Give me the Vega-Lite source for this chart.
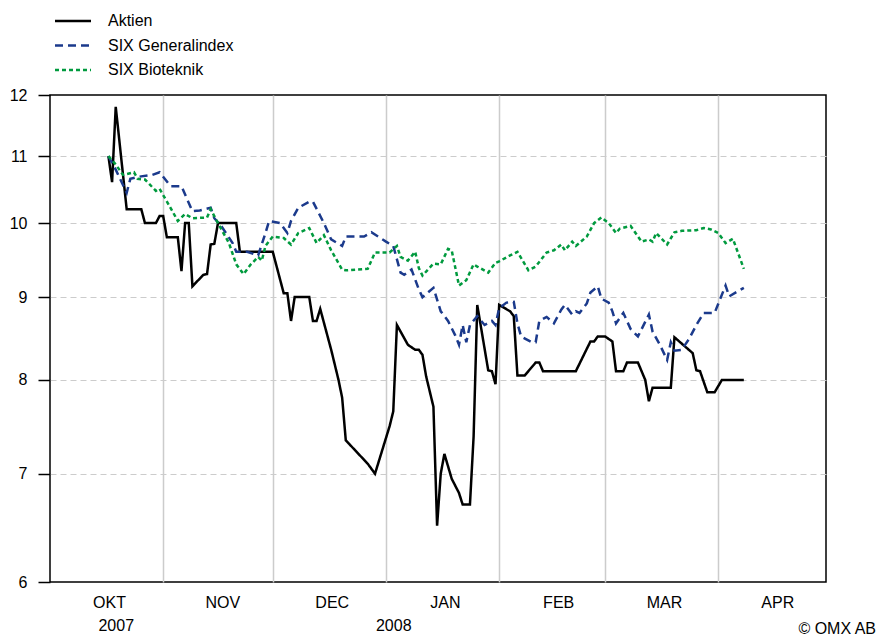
{
  "$schema": "https://vega.github.io/schema/vega-lite/v6.json",
  "width": 776,
  "height": 487,
  "autosize": {"type": "none"},
  "padding": {"left": 50, "top": 95, "right": 54, "bottom": 54},
  "background": "white",
  "config": {
    "font": "Liberation Sans",
    "view": {"stroke": "#000000", "strokeWidth": 1.5}
  },
  "title": {
    "text": "© OMX AB",
    "orient": "bottom",
    "anchor": "end",
    "fontSize": 16,
    "fontWeight": "normal",
    "font": "Liberation Sans",
    "color": "#000000",
    "dx": 50,
    "dy": -12,
    "offset": 0
  },
  "datasets": {
    "years": [
      {"date": "2007-10-19", "year": "2007"},
      {"date": "2008-01-03", "year": "2008"}
    ],
    "prices": [
      {"date": "2007-10-17", "series": "Aktien", "value": 11.0},
      {"date": "2007-10-18", "series": "Aktien", "value": 10.6},
      {"date": "2007-10-19", "series": "Aktien", "value": 11.8},
      {"date": "2007-10-22", "series": "Aktien", "value": 10.2},
      {"date": "2007-10-26", "series": "Aktien", "value": 10.2},
      {"date": "2007-10-27", "series": "Aktien", "value": 10.0},
      {"date": "2007-10-30", "series": "Aktien", "value": 10.0},
      {"date": "2007-10-31", "series": "Aktien", "value": 10.1},
      {"date": "2007-11-01", "series": "Aktien", "value": 10.1},
      {"date": "2007-11-02", "series": "Aktien", "value": 9.8},
      {"date": "2007-11-05", "series": "Aktien", "value": 9.8},
      {"date": "2007-11-06", "series": "Aktien", "value": 9.34},
      {"date": "2007-11-07", "series": "Aktien", "value": 10.0},
      {"date": "2007-11-08", "series": "Aktien", "value": 10.0},
      {"date": "2007-11-09", "series": "Aktien", "value": 9.14},
      {"date": "2007-11-12", "series": "Aktien", "value": 9.29},
      {"date": "2007-11-13", "series": "Aktien", "value": 9.3},
      {"date": "2007-11-14", "series": "Aktien", "value": 9.7},
      {"date": "2007-11-15", "series": "Aktien", "value": 9.71},
      {"date": "2007-11-16", "series": "Aktien", "value": 10.0},
      {"date": "2007-11-21", "series": "Aktien", "value": 10.0},
      {"date": "2007-11-22", "series": "Aktien", "value": 9.6},
      {"date": "2007-12-01", "series": "Aktien", "value": 9.6},
      {"date": "2007-12-04", "series": "Aktien", "value": 9.05},
      {"date": "2007-12-05", "series": "Aktien", "value": 9.05},
      {"date": "2007-12-06", "series": "Aktien", "value": 8.7},
      {"date": "2007-12-07", "series": "Aktien", "value": 9.0},
      {"date": "2007-12-11", "series": "Aktien", "value": 9.0},
      {"date": "2007-12-12", "series": "Aktien", "value": 8.7},
      {"date": "2007-12-13", "series": "Aktien", "value": 8.7},
      {"date": "2007-12-14", "series": "Aktien", "value": 8.85},
      {"date": "2007-12-17", "series": "Aktien", "value": 8.35},
      {"date": "2007-12-19", "series": "Aktien", "value": 8.0},
      {"date": "2007-12-20", "series": "Aktien", "value": 7.8},
      {"date": "2007-12-21", "series": "Aktien", "value": 7.34},
      {"date": "2007-12-22", "series": "Aktien", "value": 7.3},
      {"date": "2007-12-27", "series": "Aktien", "value": 7.1},
      {"date": "2007-12-29", "series": "Aktien", "value": 7.0},
      {"date": "2008-01-02", "series": "Aktien", "value": 7.49},
      {"date": "2008-01-03", "series": "Aktien", "value": 7.65},
      {"date": "2008-01-04", "series": "Aktien", "value": 8.65},
      {"date": "2008-01-07", "series": "Aktien", "value": 8.41},
      {"date": "2008-01-09", "series": "Aktien", "value": 8.35},
      {"date": "2008-01-10", "series": "Aktien", "value": 8.35},
      {"date": "2008-01-11", "series": "Aktien", "value": 8.29},
      {"date": "2008-01-12", "series": "Aktien", "value": 8.04},
      {"date": "2008-01-14", "series": "Aktien", "value": 7.7},
      {"date": "2008-01-15", "series": "Aktien", "value": 6.5},
      {"date": "2008-01-16", "series": "Aktien", "value": 7.0},
      {"date": "2008-01-17", "series": "Aktien", "value": 7.2},
      {"date": "2008-01-19", "series": "Aktien", "value": 6.95},
      {"date": "2008-01-21", "series": "Aktien", "value": 6.81},
      {"date": "2008-01-22", "series": "Aktien", "value": 6.7},
      {"date": "2008-01-24", "series": "Aktien", "value": 6.7},
      {"date": "2008-01-25", "series": "Aktien", "value": 7.38},
      {"date": "2008-01-26", "series": "Aktien", "value": 8.9},
      {"date": "2008-01-29", "series": "Aktien", "value": 8.11},
      {"date": "2008-01-30", "series": "Aktien", "value": 8.1},
      {"date": "2008-01-31", "series": "Aktien", "value": 7.95},
      {"date": "2008-02-01", "series": "Aktien", "value": 8.9},
      {"date": "2008-02-04", "series": "Aktien", "value": 8.82},
      {"date": "2008-02-05", "series": "Aktien", "value": 8.76},
      {"date": "2008-02-06", "series": "Aktien", "value": 8.05},
      {"date": "2008-02-08", "series": "Aktien", "value": 8.05},
      {"date": "2008-02-11", "series": "Aktien", "value": 8.2},
      {"date": "2008-02-12", "series": "Aktien", "value": 8.2},
      {"date": "2008-02-13", "series": "Aktien", "value": 8.1},
      {"date": "2008-02-22", "series": "Aktien", "value": 8.1},
      {"date": "2008-02-26", "series": "Aktien", "value": 8.45},
      {"date": "2008-02-27", "series": "Aktien", "value": 8.45},
      {"date": "2008-02-28", "series": "Aktien", "value": 8.51},
      {"date": "2008-03-01", "series": "Aktien", "value": 8.51},
      {"date": "2008-03-03", "series": "Aktien", "value": 8.45},
      {"date": "2008-03-04", "series": "Aktien", "value": 8.1},
      {"date": "2008-03-06", "series": "Aktien", "value": 8.1},
      {"date": "2008-03-07", "series": "Aktien", "value": 8.2},
      {"date": "2008-03-10", "series": "Aktien", "value": 8.2},
      {"date": "2008-03-12", "series": "Aktien", "value": 8.0},
      {"date": "2008-03-13", "series": "Aktien", "value": 7.76},
      {"date": "2008-03-14", "series": "Aktien", "value": 7.91},
      {"date": "2008-03-19", "series": "Aktien", "value": 7.91},
      {"date": "2008-03-20", "series": "Aktien", "value": 8.5},
      {"date": "2008-03-25", "series": "Aktien", "value": 8.31},
      {"date": "2008-03-26", "series": "Aktien", "value": 8.11},
      {"date": "2008-03-27", "series": "Aktien", "value": 8.1},
      {"date": "2008-03-29", "series": "Aktien", "value": 7.86},
      {"date": "2008-03-31", "series": "Aktien", "value": 7.86},
      {"date": "2008-04-02", "series": "Aktien", "value": 8.0},
      {"date": "2008-04-08", "series": "Aktien", "value": 8.0},

      {"date": "2007-10-17", "series": "SIX Generalindex", "value": 11.0},
      {"date": "2007-10-19", "series": "SIX Generalindex", "value": 10.79},
      {"date": "2007-10-22", "series": "SIX Generalindex", "value": 10.44},
      {"date": "2007-10-23", "series": "SIX Generalindex", "value": 10.65},
      {"date": "2007-10-25", "series": "SIX Generalindex", "value": 10.68},
      {"date": "2007-10-29", "series": "SIX Generalindex", "value": 10.71},
      {"date": "2007-10-31", "series": "SIX Generalindex", "value": 10.75},
      {"date": "2007-11-03", "series": "SIX Generalindex", "value": 10.54},
      {"date": "2007-11-06", "series": "SIX Generalindex", "value": 10.54},
      {"date": "2007-11-09", "series": "SIX Generalindex", "value": 10.17},
      {"date": "2007-11-11", "series": "SIX Generalindex", "value": 10.18},
      {"date": "2007-11-14", "series": "SIX Generalindex", "value": 10.22},
      {"date": "2007-11-15", "series": "SIX Generalindex", "value": 10.07},
      {"date": "2007-11-17", "series": "SIX Generalindex", "value": 9.95},
      {"date": "2007-11-20", "series": "SIX Generalindex", "value": 9.72},
      {"date": "2007-11-21", "series": "SIX Generalindex", "value": 9.6},
      {"date": "2007-11-24", "series": "SIX Generalindex", "value": 9.6},
      {"date": "2007-11-27", "series": "SIX Generalindex", "value": 9.55},
      {"date": "2007-11-29", "series": "SIX Generalindex", "value": 9.86},
      {"date": "2007-11-30", "series": "SIX Generalindex", "value": 10.03},
      {"date": "2007-12-03", "series": "SIX Generalindex", "value": 10.0},
      {"date": "2007-12-05", "series": "SIX Generalindex", "value": 9.86},
      {"date": "2007-12-06", "series": "SIX Generalindex", "value": 10.03},
      {"date": "2007-12-08", "series": "SIX Generalindex", "value": 10.22},
      {"date": "2007-12-11", "series": "SIX Generalindex", "value": 10.31},
      {"date": "2007-12-12", "series": "SIX Generalindex", "value": 10.31},
      {"date": "2007-12-15", "series": "SIX Generalindex", "value": 10.0},
      {"date": "2007-12-17", "series": "SIX Generalindex", "value": 9.77},
      {"date": "2007-12-20", "series": "SIX Generalindex", "value": 9.68},
      {"date": "2007-12-21", "series": "SIX Generalindex", "value": 9.81},
      {"date": "2007-12-26", "series": "SIX Generalindex", "value": 9.81},
      {"date": "2007-12-28", "series": "SIX Generalindex", "value": 9.87},
      {"date": "2008-01-01", "series": "SIX Generalindex", "value": 9.74},
      {"date": "2008-01-03", "series": "SIX Generalindex", "value": 9.68},
      {"date": "2008-01-05", "series": "SIX Generalindex", "value": 9.32},
      {"date": "2008-01-06", "series": "SIX Generalindex", "value": 9.29},
      {"date": "2008-01-08", "series": "SIX Generalindex", "value": 9.36},
      {"date": "2008-01-10", "series": "SIX Generalindex", "value": 9.1},
      {"date": "2008-01-11", "series": "SIX Generalindex", "value": 9.0},
      {"date": "2008-01-14", "series": "SIX Generalindex", "value": 9.12},
      {"date": "2008-01-16", "series": "SIX Generalindex", "value": 8.82},
      {"date": "2008-01-18", "series": "SIX Generalindex", "value": 8.7},
      {"date": "2008-01-20", "series": "SIX Generalindex", "value": 8.52},
      {"date": "2008-01-21", "series": "SIX Generalindex", "value": 8.41},
      {"date": "2008-01-22", "series": "SIX Generalindex", "value": 8.65},
      {"date": "2008-01-23", "series": "SIX Generalindex", "value": 8.44},
      {"date": "2008-01-24", "series": "SIX Generalindex", "value": 8.65},
      {"date": "2008-01-26", "series": "SIX Generalindex", "value": 8.76},
      {"date": "2008-01-28", "series": "SIX Generalindex", "value": 8.65},
      {"date": "2008-01-30", "series": "SIX Generalindex", "value": 8.7},
      {"date": "2008-01-31", "series": "SIX Generalindex", "value": 8.65},
      {"date": "2008-02-01", "series": "SIX Generalindex", "value": 8.86},
      {"date": "2008-02-03", "series": "SIX Generalindex", "value": 8.93},
      {"date": "2008-02-05", "series": "SIX Generalindex", "value": 8.94},
      {"date": "2008-02-06", "series": "SIX Generalindex", "value": 8.67},
      {"date": "2008-02-07", "series": "SIX Generalindex", "value": 8.51},
      {"date": "2008-02-10", "series": "SIX Generalindex", "value": 8.44},
      {"date": "2008-02-11", "series": "SIX Generalindex", "value": 8.44},
      {"date": "2008-02-12", "series": "SIX Generalindex", "value": 8.7},
      {"date": "2008-02-14", "series": "SIX Generalindex", "value": 8.75},
      {"date": "2008-02-16", "series": "SIX Generalindex", "value": 8.67},
      {"date": "2008-02-18", "series": "SIX Generalindex", "value": 8.84},
      {"date": "2008-02-19", "series": "SIX Generalindex", "value": 8.9},
      {"date": "2008-02-21", "series": "SIX Generalindex", "value": 8.78},
      {"date": "2008-02-22", "series": "SIX Generalindex", "value": 8.82},
      {"date": "2008-02-23", "series": "SIX Generalindex", "value": 8.8},
      {"date": "2008-02-25", "series": "SIX Generalindex", "value": 8.92},
      {"date": "2008-02-26", "series": "SIX Generalindex", "value": 9.06},
      {"date": "2008-02-28", "series": "SIX Generalindex", "value": 9.14},
      {"date": "2008-02-29", "series": "SIX Generalindex", "value": 8.98},
      {"date": "2008-03-02", "series": "SIX Generalindex", "value": 8.93},
      {"date": "2008-03-03", "series": "SIX Generalindex", "value": 8.82},
      {"date": "2008-03-04", "series": "SIX Generalindex", "value": 8.67},
      {"date": "2008-03-06", "series": "SIX Generalindex", "value": 8.8},
      {"date": "2008-03-08", "series": "SIX Generalindex", "value": 8.6},
      {"date": "2008-03-10", "series": "SIX Generalindex", "value": 8.51},
      {"date": "2008-03-13", "series": "SIX Generalindex", "value": 8.78},
      {"date": "2008-03-14", "series": "SIX Generalindex", "value": 8.57},
      {"date": "2008-03-16", "series": "SIX Generalindex", "value": 8.41},
      {"date": "2008-03-18", "series": "SIX Generalindex", "value": 8.23},
      {"date": "2008-03-19", "series": "SIX Generalindex", "value": 8.44},
      {"date": "2008-03-20", "series": "SIX Generalindex", "value": 8.34},
      {"date": "2008-03-22", "series": "SIX Generalindex", "value": 8.35},
      {"date": "2008-03-24", "series": "SIX Generalindex", "value": 8.48},
      {"date": "2008-03-26", "series": "SIX Generalindex", "value": 8.65},
      {"date": "2008-03-28", "series": "SIX Generalindex", "value": 8.8},
      {"date": "2008-03-31", "series": "SIX Generalindex", "value": 8.8},
      {"date": "2008-04-03", "series": "SIX Generalindex", "value": 9.15},
      {"date": "2008-04-04", "series": "SIX Generalindex", "value": 9.01},
      {"date": "2008-04-08", "series": "SIX Generalindex", "value": 9.12},

      {"date": "2007-10-17", "series": "SIX Bioteknik", "value": 11.0},
      {"date": "2007-10-19", "series": "SIX Bioteknik", "value": 10.87},
      {"date": "2007-10-21", "series": "SIX Bioteknik", "value": 10.71},
      {"date": "2007-10-24", "series": "SIX Bioteknik", "value": 10.75},
      {"date": "2007-10-25", "series": "SIX Bioteknik", "value": 10.65},
      {"date": "2007-10-27", "series": "SIX Bioteknik", "value": 10.64},
      {"date": "2007-10-30", "series": "SIX Bioteknik", "value": 10.47},
      {"date": "2007-10-31", "series": "SIX Bioteknik", "value": 10.5},
      {"date": "2007-11-03", "series": "SIX Bioteknik", "value": 10.22},
      {"date": "2007-11-05", "series": "SIX Bioteknik", "value": 10.03},
      {"date": "2007-11-07", "series": "SIX Bioteknik", "value": 10.13},
      {"date": "2007-11-09", "series": "SIX Bioteknik", "value": 10.07},
      {"date": "2007-11-13", "series": "SIX Bioteknik", "value": 10.08},
      {"date": "2007-11-14", "series": "SIX Bioteknik", "value": 10.2},
      {"date": "2007-11-16", "series": "SIX Bioteknik", "value": 10.0},
      {"date": "2007-11-19", "series": "SIX Bioteknik", "value": 9.72},
      {"date": "2007-11-21", "series": "SIX Bioteknik", "value": 9.43},
      {"date": "2007-11-23", "series": "SIX Bioteknik", "value": 9.3},
      {"date": "2007-11-25", "series": "SIX Bioteknik", "value": 9.43},
      {"date": "2007-11-27", "series": "SIX Bioteknik", "value": 9.53},
      {"date": "2007-11-28", "series": "SIX Bioteknik", "value": 9.48},
      {"date": "2007-11-29", "series": "SIX Bioteknik", "value": 9.68},
      {"date": "2007-12-01", "series": "SIX Bioteknik", "value": 9.81},
      {"date": "2007-12-04", "series": "SIX Bioteknik", "value": 9.79},
      {"date": "2007-12-06", "series": "SIX Bioteknik", "value": 9.7},
      {"date": "2007-12-08", "series": "SIX Bioteknik", "value": 9.86},
      {"date": "2007-12-11", "series": "SIX Bioteknik", "value": 9.93},
      {"date": "2007-12-13", "series": "SIX Bioteknik", "value": 9.72},
      {"date": "2007-12-15", "series": "SIX Bioteknik", "value": 9.83},
      {"date": "2007-12-17", "series": "SIX Bioteknik", "value": 9.62},
      {"date": "2007-12-20", "series": "SIX Bioteknik", "value": 9.36},
      {"date": "2007-12-21", "series": "SIX Bioteknik", "value": 9.35},
      {"date": "2007-12-27", "series": "SIX Bioteknik", "value": 9.37},
      {"date": "2007-12-29", "series": "SIX Bioteknik", "value": 9.59},
      {"date": "2008-01-02", "series": "SIX Bioteknik", "value": 9.59},
      {"date": "2008-01-04", "series": "SIX Bioteknik", "value": 9.68},
      {"date": "2008-01-05", "series": "SIX Bioteknik", "value": 9.53},
      {"date": "2008-01-07", "series": "SIX Bioteknik", "value": 9.48},
      {"date": "2008-01-09", "series": "SIX Bioteknik", "value": 9.6},
      {"date": "2008-01-10", "series": "SIX Bioteknik", "value": 9.38},
      {"date": "2008-01-11", "series": "SIX Bioteknik", "value": 9.28},
      {"date": "2008-01-14", "series": "SIX Bioteknik", "value": 9.44},
      {"date": "2008-01-16", "series": "SIX Bioteknik", "value": 9.43},
      {"date": "2008-01-18", "series": "SIX Bioteknik", "value": 9.64},
      {"date": "2008-01-19", "series": "SIX Bioteknik", "value": 9.62},
      {"date": "2008-01-21", "series": "SIX Bioteknik", "value": 9.15},
      {"date": "2008-01-23", "series": "SIX Bioteknik", "value": 9.22},
      {"date": "2008-01-25", "series": "SIX Bioteknik", "value": 9.43},
      {"date": "2008-01-26", "series": "SIX Bioteknik", "value": 9.4},
      {"date": "2008-01-29", "series": "SIX Bioteknik", "value": 9.32},
      {"date": "2008-01-31", "series": "SIX Bioteknik", "value": 9.45},
      {"date": "2008-02-01", "series": "SIX Bioteknik", "value": 9.47},
      {"date": "2008-02-04", "series": "SIX Bioteknik", "value": 9.55},
      {"date": "2008-02-06", "series": "SIX Bioteknik", "value": 9.6},
      {"date": "2008-02-09", "series": "SIX Bioteknik", "value": 9.35},
      {"date": "2008-02-11", "series": "SIX Bioteknik", "value": 9.4},
      {"date": "2008-02-14", "series": "SIX Bioteknik", "value": 9.59},
      {"date": "2008-02-16", "series": "SIX Bioteknik", "value": 9.62},
      {"date": "2008-02-18", "series": "SIX Bioteknik", "value": 9.7},
      {"date": "2008-02-19", "series": "SIX Bioteknik", "value": 9.62},
      {"date": "2008-02-21", "series": "SIX Bioteknik", "value": 9.74},
      {"date": "2008-02-22", "series": "SIX Bioteknik", "value": 9.68},
      {"date": "2008-02-25", "series": "SIX Bioteknik", "value": 9.81},
      {"date": "2008-02-27", "series": "SIX Bioteknik", "value": 10.0},
      {"date": "2008-02-29", "series": "SIX Bioteknik", "value": 10.08},
      {"date": "2008-03-02", "series": "SIX Bioteknik", "value": 10.0},
      {"date": "2008-03-04", "series": "SIX Bioteknik", "value": 9.86},
      {"date": "2008-03-05", "series": "SIX Bioteknik", "value": 9.92},
      {"date": "2008-03-08", "series": "SIX Bioteknik", "value": 9.96},
      {"date": "2008-03-11", "series": "SIX Bioteknik", "value": 9.74},
      {"date": "2008-03-13", "series": "SIX Bioteknik", "value": 9.77},
      {"date": "2008-03-14", "series": "SIX Bioteknik", "value": 9.74},
      {"date": "2008-03-15", "series": "SIX Bioteknik", "value": 9.86},
      {"date": "2008-03-18", "series": "SIX Bioteknik", "value": 9.7},
      {"date": "2008-03-20", "series": "SIX Bioteknik", "value": 9.87},
      {"date": "2008-03-22", "series": "SIX Bioteknik", "value": 9.89},
      {"date": "2008-03-26", "series": "SIX Bioteknik", "value": 9.9},
      {"date": "2008-03-28", "series": "SIX Bioteknik", "value": 9.93},
      {"date": "2008-03-30", "series": "SIX Bioteknik", "value": 9.91},
      {"date": "2008-04-01", "series": "SIX Bioteknik", "value": 9.86},
      {"date": "2008-04-03", "series": "SIX Bioteknik", "value": 9.72},
      {"date": "2008-04-05", "series": "SIX Bioteknik", "value": 9.78},
      {"date": "2008-04-08", "series": "SIX Bioteknik", "value": 9.37}
    ]
  },
  "layer": [
    {
      "data": {"name": "prices"},
      "mark": {"type": "line", "strokeWidth": 2.5},
      "encoding": {
        "x": {
          "field": "date",
          "type": "temporal",
          "scale": {
            "type": "utc",
            "domain": [
              {"year": 2007, "month": 10, "date": 1, "utc": true},
              {"year": 2008, "month": 4, "date": 30, "hours": 12, "utc": true}
            ]
          },
          "axis": {
            "title": null,
            "values": [
              {"year": 2007, "month": 10, "date": 1, "utc": true},
              {"year": 2007, "month": 11, "date": 1, "utc": true},
              {"year": 2007, "month": 12, "date": 1, "utc": true},
              {"year": 2008, "month": 1, "date": 1, "utc": true},
              {"year": 2008, "month": 2, "date": 1, "utc": true},
              {"year": 2008, "month": 3, "date": 1, "utc": true},
              {"year": 2008, "month": 4, "date": 1, "utc": true}
            ],
            "labelExpr": "['JAN','FEB','MAR','APR','MAJ','JUN','JUL','AUG','SEP','OKT','NOV','DEC'][utcmonth(datum.value)]",
            "labelOffset": 59,
            "labelFlush": false,
            "labelOverlap": false,
            "labelAngle": 0,
            "labelAlign": "center",
            "labelFontSize": 16,
            "labelFont": "Liberation Sans",
            "labelColor": "#000000",
            "labelPadding": 12,
            "ticks": false,
            "tickSize": 0,
            "domain": false,
            "grid": true,
            "gridColor": "#cccccc",
            "gridWidth": 1.5,
            "gridOpacity": {"condition": {"test": "utcmonth(datum.value) == 9", "value": 0}, "value": 1},
            "orient": "bottom"
          }
        },
        "y": {
          "field": "value",
          "type": "quantitative",
          "scale": {"type": "log", "domain": [6, 12], "nice": false},
          "axis": {
            "title": null,
            "values": [6, 7, 8, 9, 10, 11, 12],
            "format": "d",
            "grid": true,
            "gridDash": [6, 4],
            "gridColor": "#cccccc",
            "gridWidth": 1,
            "gridOpacity": {"condition": {"test": "datum.value <= 6.01 || datum.value >= 11.99", "value": 0}, "value": 1},
            "tickSize": 12,
            "tickColor": "#000000",
            "tickWidth": 1.5,
            "domain": false,
            "labelPadding": 11,
            "labelFontSize": 16,
            "labelFont": "Liberation Sans",
            "labelColor": "#000000"
          }
        },
        "color": {
          "field": "series",
          "type": "nominal",
          "scale": {
            "domain": ["Aktien", "SIX Generalindex", "SIX Bioteknik"],
            "range": ["#000000", "#1b3a8c", "#009a3e"]
          },
          "legend": {
            "title": null,
            "orient": "none",
            "legendX": 12.5,
            "legendY": -84.5,
            "padding": 0,
            "symbolType": "M-2,0H2",
            "symbolSize": 324,
            "symbolStrokeWidth": 2.5,
            "labelFontSize": 16,
            "labelFont": "Liberation Sans",
            "labelColor": "#000000",
            "labelOffset": 24.5,
            "rowPadding": 5.5
          }
        },
        "strokeDash": {
          "field": "series",
          "type": "nominal",
          "scale": {
            "domain": ["Aktien", "SIX Generalindex", "SIX Bioteknik"],
            "range": [[1, 0], [8, 5], [4, 3]]
          },
          "legend": {
            "title": null,
            "orient": "none",
            "legendX": 12.5,
            "legendY": -84.5,
            "padding": 0,
            "symbolType": "M-2,0H2",
            "symbolSize": 324,
            "symbolStrokeWidth": 2.5,
            "labelFontSize": 16,
            "labelFont": "Liberation Sans",
            "labelColor": "#000000",
            "labelOffset": 24.5,
            "rowPadding": 5.5
          }
        }
      }
    },
    {
      "data": {"name": "years"},
      "mark": {"type": "rule", "strokeOpacity": 0},
      "encoding": {
        "x": {
          "field": "date",
          "type": "temporal",
          "axis": {
            "title": null,
            "orient": "bottom",
            "values": [
              {"year": 2007, "month": 10, "date": 19, "utc": true},
              {"year": 2008, "month": 1, "date": 3, "utc": true}
            ],
            "labelExpr": "utcFormat(datum.value, '%Y')",
            "labelFlush": false,
            "labelOverlap": false,
            "labelAngle": 0,
            "labelAlign": "center",
            "labelFontSize": 16,
            "labelFont": "Liberation Sans",
            "labelColor": "#000000",
            "labelPadding": 35,
            "ticks": false,
            "tickSize": 0,
            "domain": false,
            "grid": false
          }
        }
      }
    }
  ],
  "resolve": {"axis": {"x": "independent"}}
}
